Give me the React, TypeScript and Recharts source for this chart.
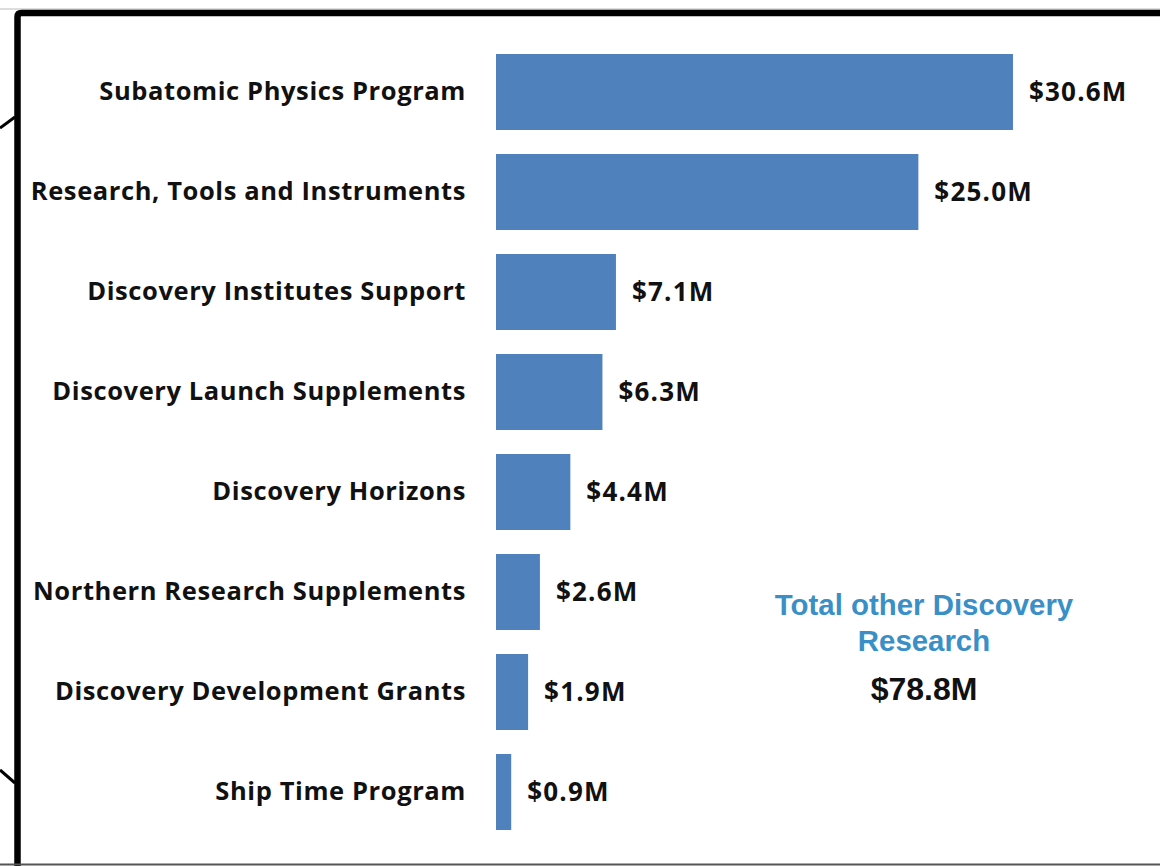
import React from "react";
import { BarChart, Bar, XAxis, YAxis, LabelList } from "recharts";

const categories = [
  "Subatomic Physics Program",
  "Research, Tools and Instruments",
  "Discovery Institutes Support",
  "Discovery Launch Supplements",
  "Discovery Horizons",
  "Northern Research Supplements",
  "Discovery Development Grants",
  "Ship Time Program",
];
const values = [30.6, 25.0, 7.1, 6.3, 4.4, 2.6, 1.9, 0.9];
const totalTitle = ["Total other Discovery", "Research"];
const totalValue = "$78.8M";

const data = categories.map((name, i) => ({ name, value: values[i] }));

const labelFont = "'Open Sans', 'Noto Sans', sans-serif";

const Tick = (props: any) => {
  const { x, y, payload } = props;
  return (
    <text
      x={x}
      y={y}
      dy={8}
      textAnchor="end"
      fontFamily={labelFont}
      fontWeight={700}
      fontSize={25.5}
      letterSpacing={0.6}
      fill="#111"
    >
      {payload.value}
    </text>
  );
};

export default function App() {
  return (
    <div style={{ position: "absolute", left: 0, top: 0, width: 1160, height: 866, background: "#fff", overflow: "hidden" }}>
      <svg width={1160} height={866} style={{ position: "absolute", left: 0, top: 0 }}>
        <line x1={0} y1={9} x2={1160} y2={9} stroke="#bbb" strokeWidth={1} />
        <path d="M 17.5 866 L 17.5 17 Q 17.5 13 21.5 13 L 1160 13" fill="none" stroke="#000" strokeWidth={6.5} />
        <line x1={0} y1={864.5} x2={1160} y2={864.5} stroke="#555" strokeWidth={2} />
        <line x1={0} y1={128} x2={15} y2={117} stroke="#000" strokeWidth={3} />
        <line x1={0} y1={770} x2={15} y2={783} stroke="#000" strokeWidth={3} />
      </svg>
      <div style={{ position: "absolute", left: 0, top: 0 }}>
        <BarChart
          width={1160}
          height={866}
          data={data}
          layout="vertical"
          margin={{ top: 42, right: 22, bottom: 24, left: 0 }}
          barCategoryGap={12}
        >
          <XAxis type="number" domain={[0, 38]} hide />
          <YAxis
            type="category"
            dataKey="name"
            width={496}
            axisLine={false}
            tickLine={false}
            tickSize={0}
            tickMargin={30}
            tick={<Tick />}
            interval={0}
          />
          <Bar dataKey="value" fill="#4F81BD" isAnimationActive={false}>
            <LabelList
              dataKey="value"
              position="right"
              offset={16}
              formatter={(v: any) => `$${Number(v).toFixed(1)}M`}
              style={{ fontFamily: labelFont, fontWeight: 700, fontSize: 26, letterSpacing: 1.2, fill: "#111" }}
            />
          </Bar>
        </BarChart>
      </div>
      <div
        style={{
          position: "absolute",
          left: 724,
          top: 587,
          width: 400,
          textAlign: "center",
          fontFamily: "'Liberation Sans', Arial, sans-serif",
          fontWeight: 700,
          fontSize: 29.4,
          lineHeight: "36px",
          color: "#3A90C6",
        }}
      >
        <div>{totalTitle[0]}</div>
        <div>{totalTitle[1]}</div>
        <div style={{ color: "#111", marginTop: 12, fontSize: 32 }}>{totalValue}</div>
      </div>
    </div>
  );
}
